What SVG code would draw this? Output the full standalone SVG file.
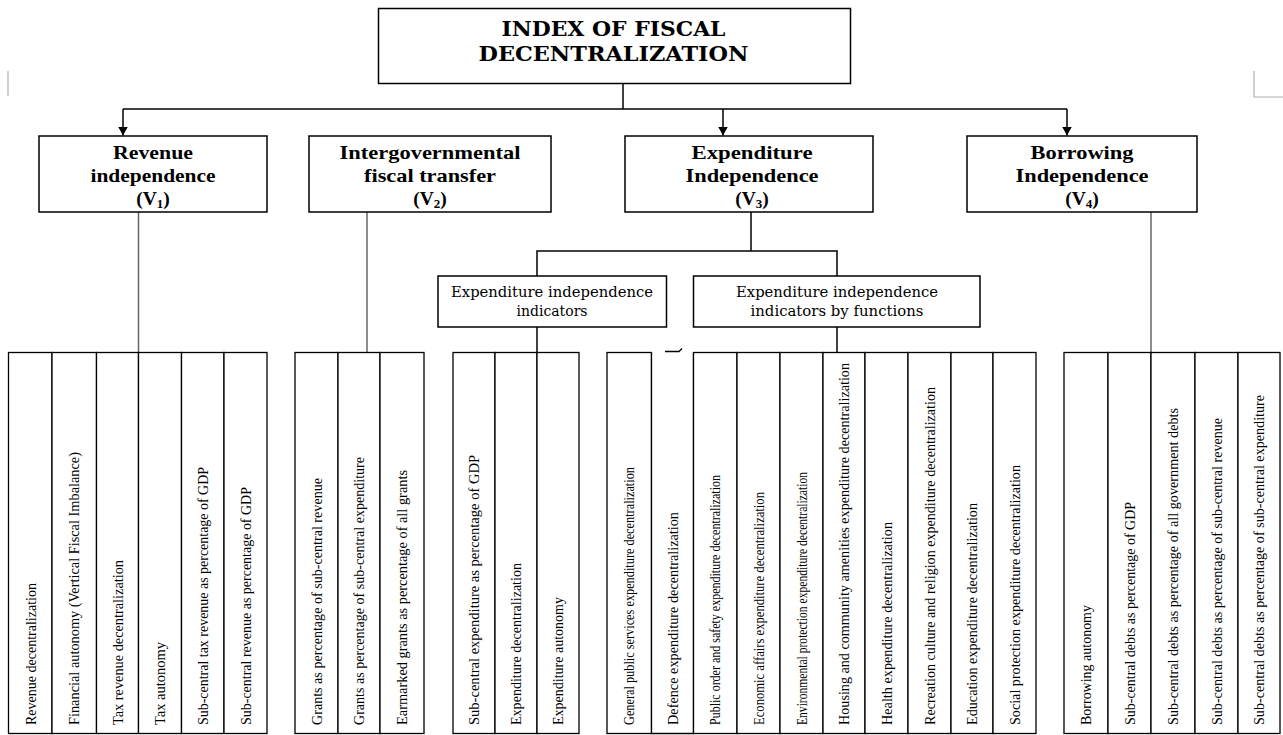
<svg xmlns="http://www.w3.org/2000/svg" width="1283" height="735" viewBox="0 0 1283 735">
<defs>
<marker id="arr" markerUnits="userSpaceOnUse" markerWidth="9" markerHeight="10" refX="9" refY="5" orient="auto">
<path d="M0,0 L9,5 L0,10 z" fill="#000"/>
</marker>
<style>
.box{fill:#fff;stroke:#000;stroke-width:1.5}
.col{fill:#fff;stroke:#000;stroke-width:1.3}
.ln{fill:none;stroke:#000;stroke-width:1.5}
.gl{fill:none;stroke:#666;stroke-width:1.5}
.mk{fill:none;stroke:#b0b0b0;stroke-width:1.2}
.title{font-family:"DejaVu Serif","Liberation Serif",serif;font-weight:bold;font-size:21px;text-anchor:middle;fill:#000}
.hd{font-family:"Liberation Serif",serif;font-weight:bold;font-size:19.5px;text-anchor:middle;fill:#000}
.sub{font-family:"DejaVu Serif","Liberation Serif",serif;font-size:14px;text-anchor:middle;fill:#000}
.vt{font-family:"Liberation Serif",serif;font-size:15px;fill:#000}
</style>
</defs>
<rect width="1283" height="735" fill="#fff"/>

<g id="page-marks">
<path class="mk" d="M8,71 V96"/>
<path class="mk" d="M1254,71 V97 H1283"/>
</g>

<g id="connectors">
<path class="ln" d="M623,83.5 V109"/>
<path class="ln" d="M123,109 H1067"/>
<path class="ln" d="M123,109 V135.5" marker-end="url(#arr)"/>
<path class="ln" d="M723,109 V135.5" marker-end="url(#arr)"/>
<path class="ln" d="M1067,109 V135.5" marker-end="url(#arr)"/>
<path class="gl" d="M138.5,212 V352.5"/>
<path class="gl" d="M367,212 V352.5"/>
<path class="gl" d="M1151,212 V352.5"/>
<path class="ln" d="M751,212 V251"/>
<path class="ln" d="M537,276 V251 H837 V276"/>
<path class="ln" d="M537,327 V352.5"/>
<path class="ln" d="M837,327 V352.5"/>
</g>

<g id="root">
<rect class="box" x="378.5" y="8.5" width="472" height="75"/>
<text class="title" x="613.5" y="36" textLength="224" lengthAdjust="spacingAndGlyphs">INDEX OF FISCAL</text>
<text class="title" x="613.5" y="61" textLength="270" lengthAdjust="spacingAndGlyphs">DECENTRALIZATION</text>
</g>

<g id="v1">
<rect class="box" x="39" y="136" width="228" height="76"/>
<text class="hd" x="153" y="159" textLength="80" lengthAdjust="spacingAndGlyphs">Revenue</text>
<text class="hd" x="153" y="182" textLength="125" lengthAdjust="spacingAndGlyphs">independence</text>
<text class="hd" x="153" y="205">(V<tspan font-size="13" dy="3">1</tspan><tspan dy="-3">)</tspan></text>
</g>
<g id="v2">
<rect class="box" x="309" y="136" width="242" height="76"/>
<text class="hd" x="430" y="159" textLength="181" lengthAdjust="spacingAndGlyphs">Intergovernmental</text>
<text class="hd" x="430" y="182" textLength="132" lengthAdjust="spacingAndGlyphs">fiscal transfer</text>
<text class="hd" x="430" y="205">(V<tspan font-size="13" dy="3">2</tspan><tspan dy="-3">)</tspan></text>
</g>
<g id="v3">
<rect class="box" x="625" y="136" width="248" height="76"/>
<text class="hd" x="752" y="159" textLength="121" lengthAdjust="spacingAndGlyphs">Expenditure</text>
<text class="hd" x="752" y="182" textLength="133" lengthAdjust="spacingAndGlyphs">Independence</text>
<text class="hd" x="752" y="205">(V<tspan font-size="13" dy="3">3</tspan><tspan dy="-3">)</tspan></text>
</g>
<g id="v4">
<rect class="box" x="967" y="136" width="230" height="76"/>
<text class="hd" x="1082" y="159" textLength="103" lengthAdjust="spacingAndGlyphs">Borrowing</text>
<text class="hd" x="1082" y="182" textLength="133" lengthAdjust="spacingAndGlyphs">Independence</text>
<text class="hd" x="1082" y="205">(V<tspan font-size="13" dy="3">4</tspan><tspan dy="-3">)</tspan></text>
</g>

<g id="exp-indicators">
<rect class="box" x="438" y="276" width="228.5" height="51"/>
<text class="sub" x="552" y="297" textLength="202" lengthAdjust="spacingAndGlyphs">Expenditure independence</text>
<text class="sub" x="552" y="316">indicators</text>
</g>
<g id="exp-functions">
<rect class="box" x="693.5" y="276" width="286.5" height="51"/>
<text class="sub" x="837" y="297" textLength="202" lengthAdjust="spacingAndGlyphs">Expenditure independence</text>
<text class="sub" x="837" y="316" textLength="173" lengthAdjust="spacingAndGlyphs">indicators by functions</text>
</g>

<!-- Revenue independence indicators -->
<g id="r1"><rect class="col" x="8.5" y="352.5" width="43.5" height="381"/><text class="vt" x="35.5" y="725" transform="rotate(-90 35.5 725)" textLength="142" lengthAdjust="spacingAndGlyphs">Revenue decentralization</text></g>
<g id="r2"><rect class="col" x="52" y="352.5" width="44.5" height="381"/><text class="vt" x="79" y="725" transform="rotate(-90 79 725)" textLength="273" lengthAdjust="spacingAndGlyphs">Financial autonomy (Vertical Fiscal Imbalance)</text></g>
<g id="r3"><rect class="col" x="96.5" y="352.5" width="42" height="381"/><text class="vt" x="122.5" y="725" transform="rotate(-90 122.5 725)" textLength="165" lengthAdjust="spacingAndGlyphs">Tax revenue decentralization</text></g>
<g id="r4"><rect class="col" x="138.5" y="352.5" width="43" height="381"/><text class="vt" x="165" y="725" transform="rotate(-90 165 725)" textLength="83" lengthAdjust="spacingAndGlyphs">Tax autonomy</text></g>
<g id="r5"><rect class="col" x="181.5" y="352.5" width="42.5" height="381"/><text class="vt" x="208" y="725" transform="rotate(-90 208 725)" textLength="258" lengthAdjust="spacingAndGlyphs">Sub-central tax revenue as percentage of GDP</text></g>
<g id="r6"><rect class="col" x="224" y="352.5" width="43" height="381"/><text class="vt" x="250.5" y="725" transform="rotate(-90 250.5 725)" textLength="238" lengthAdjust="spacingAndGlyphs">Sub-central revenue as percentage of GDP</text></g>

<!-- Intergovernmental fiscal transfer indicators -->
<g id="t1"><rect class="col" x="295" y="352.5" width="43" height="381"/><text class="vt" x="321.5" y="725" transform="rotate(-90 321.5 725)" textLength="247" lengthAdjust="spacingAndGlyphs">Grants as percentage of sub-central revenue</text></g>
<g id="t2"><rect class="col" x="338" y="352.5" width="42" height="381"/><text class="vt" x="364" y="725" transform="rotate(-90 364 725)" textLength="268" lengthAdjust="spacingAndGlyphs">Grants as percentage of sub-central expenditure</text></g>
<g id="t3"><rect class="col" x="380" y="352.5" width="44" height="381"/><text class="vt" x="407" y="725" transform="rotate(-90 407 725)" textLength="255" lengthAdjust="spacingAndGlyphs">Earmarked grants as percentage of all grants</text></g>

<!-- Expenditure independence indicators -->
<g id="e1"><rect class="col" x="453" y="352.5" width="42" height="381"/><text class="vt" x="479" y="725" transform="rotate(-90 479 725)" textLength="270" lengthAdjust="spacingAndGlyphs">Sub-central expenditure as percentage of GDP</text></g>
<g id="e2"><rect class="col" x="495" y="352.5" width="42" height="381"/><text class="vt" x="521" y="725" transform="rotate(-90 521 725)" textLength="162" lengthAdjust="spacingAndGlyphs">Expenditure decentralization</text></g>
<g id="e3"><rect class="col" x="537" y="352.5" width="42" height="381"/><text class="vt" x="563" y="725" transform="rotate(-90 563 725)" textLength="128" lengthAdjust="spacingAndGlyphs">Expenditure autonomy</text></g>

<!-- Expenditure independence indicators by functions -->
<g id="f1"><rect class="col" x="607" y="352.5" width="44.5" height="381"/><text class="vt" x="634" y="725" transform="rotate(-90 634 725)" textLength="258" lengthAdjust="spacingAndGlyphs">General public services expenditure decentralization</text></g>
<g id="f2"><path class="col" d="M651.5,352.5 V733.5 H693.5 V352.5"/><path class="col" fill="none" d="M665,351.5 H679 L682,348.5"/><text class="vt" x="677.5" y="725" transform="rotate(-90 677.5 725)" textLength="213" lengthAdjust="spacingAndGlyphs">Defence expenditure decentralization</text></g>
<g id="f3"><rect class="col" x="693.5" y="352.5" width="43.5" height="381"/><text class="vt" x="720" y="725" transform="rotate(-90 720 725)" textLength="250" lengthAdjust="spacingAndGlyphs">Public order and safety expenditure decentralization</text></g>
<g id="f4"><rect class="col" x="737" y="352.5" width="43" height="381"/><text class="vt" x="763.5" y="725" transform="rotate(-90 763.5 725)" textLength="233" lengthAdjust="spacingAndGlyphs">Economic affairs expenditure decentralization</text></g>
<g id="f5"><rect class="col" x="780" y="352.5" width="43" height="381"/><text class="vt" x="806.5" y="725" transform="rotate(-90 806.5 725)" textLength="253" lengthAdjust="spacingAndGlyphs">Environmental protection expenditure decentralization</text></g>
<g id="f6"><rect class="col" x="823" y="352.5" width="42" height="381"/><text class="vt" x="849" y="725" transform="rotate(-90 849 725)" textLength="362" lengthAdjust="spacingAndGlyphs">Housing and community amenities expenditure decentralization</text></g>
<g id="f7"><rect class="col" x="865" y="352.5" width="43" height="381"/><text class="vt" x="891.5" y="725" transform="rotate(-90 891.5 725)" textLength="203" lengthAdjust="spacingAndGlyphs">Health expenditure decentralization</text></g>
<g id="f8"><rect class="col" x="908" y="352.5" width="43" height="381"/><text class="vt" x="934.5" y="725" transform="rotate(-90 934.5 725)" textLength="338" lengthAdjust="spacingAndGlyphs">Recreation culture and religion expenditure decentralization</text></g>
<g id="f9"><rect class="col" x="951" y="352.5" width="42" height="381"/><text class="vt" x="977" y="725" transform="rotate(-90 977 725)" textLength="222" lengthAdjust="spacingAndGlyphs">Education expenditure decentralization</text></g>
<g id="f10"><rect class="col" x="993" y="352.5" width="43" height="381"/><text class="vt" x="1019.5" y="725" transform="rotate(-90 1019.5 725)" textLength="260" lengthAdjust="spacingAndGlyphs">Social protection expenditure decentralization</text></g>

<!-- Borrowing independence indicators -->
<g id="b1"><rect class="col" x="1064" y="352.5" width="44" height="381"/><text class="vt" x="1091" y="725" transform="rotate(-90 1091 725)" textLength="120" lengthAdjust="spacingAndGlyphs">Borrowing autonomy</text></g>
<g id="b2"><rect class="col" x="1108" y="352.5" width="43" height="381"/><text class="vt" x="1134.5" y="725" transform="rotate(-90 1134.5 725)" textLength="223" lengthAdjust="spacingAndGlyphs">Sub-central debts as percentage of GDP</text></g>
<g id="b3"><rect class="col" x="1151" y="352.5" width="44" height="381"/><text class="vt" x="1178" y="725" transform="rotate(-90 1178 725)" textLength="317" lengthAdjust="spacingAndGlyphs">Sub-central debts as percentage of all government debts</text></g>
<g id="b4"><rect class="col" x="1195" y="352.5" width="43" height="381"/><text class="vt" x="1221.5" y="725" transform="rotate(-90 1221.5 725)" textLength="307" lengthAdjust="spacingAndGlyphs">Sub-central debts as percentage of sub-central revenue</text></g>
<g id="b5"><rect class="col" x="1238" y="352.5" width="42" height="381"/><text class="vt" x="1264" y="725" transform="rotate(-90 1264 725)" textLength="330" lengthAdjust="spacingAndGlyphs">Sub-central debts as percentage of sub-central expenditure</text></g>
</svg>
